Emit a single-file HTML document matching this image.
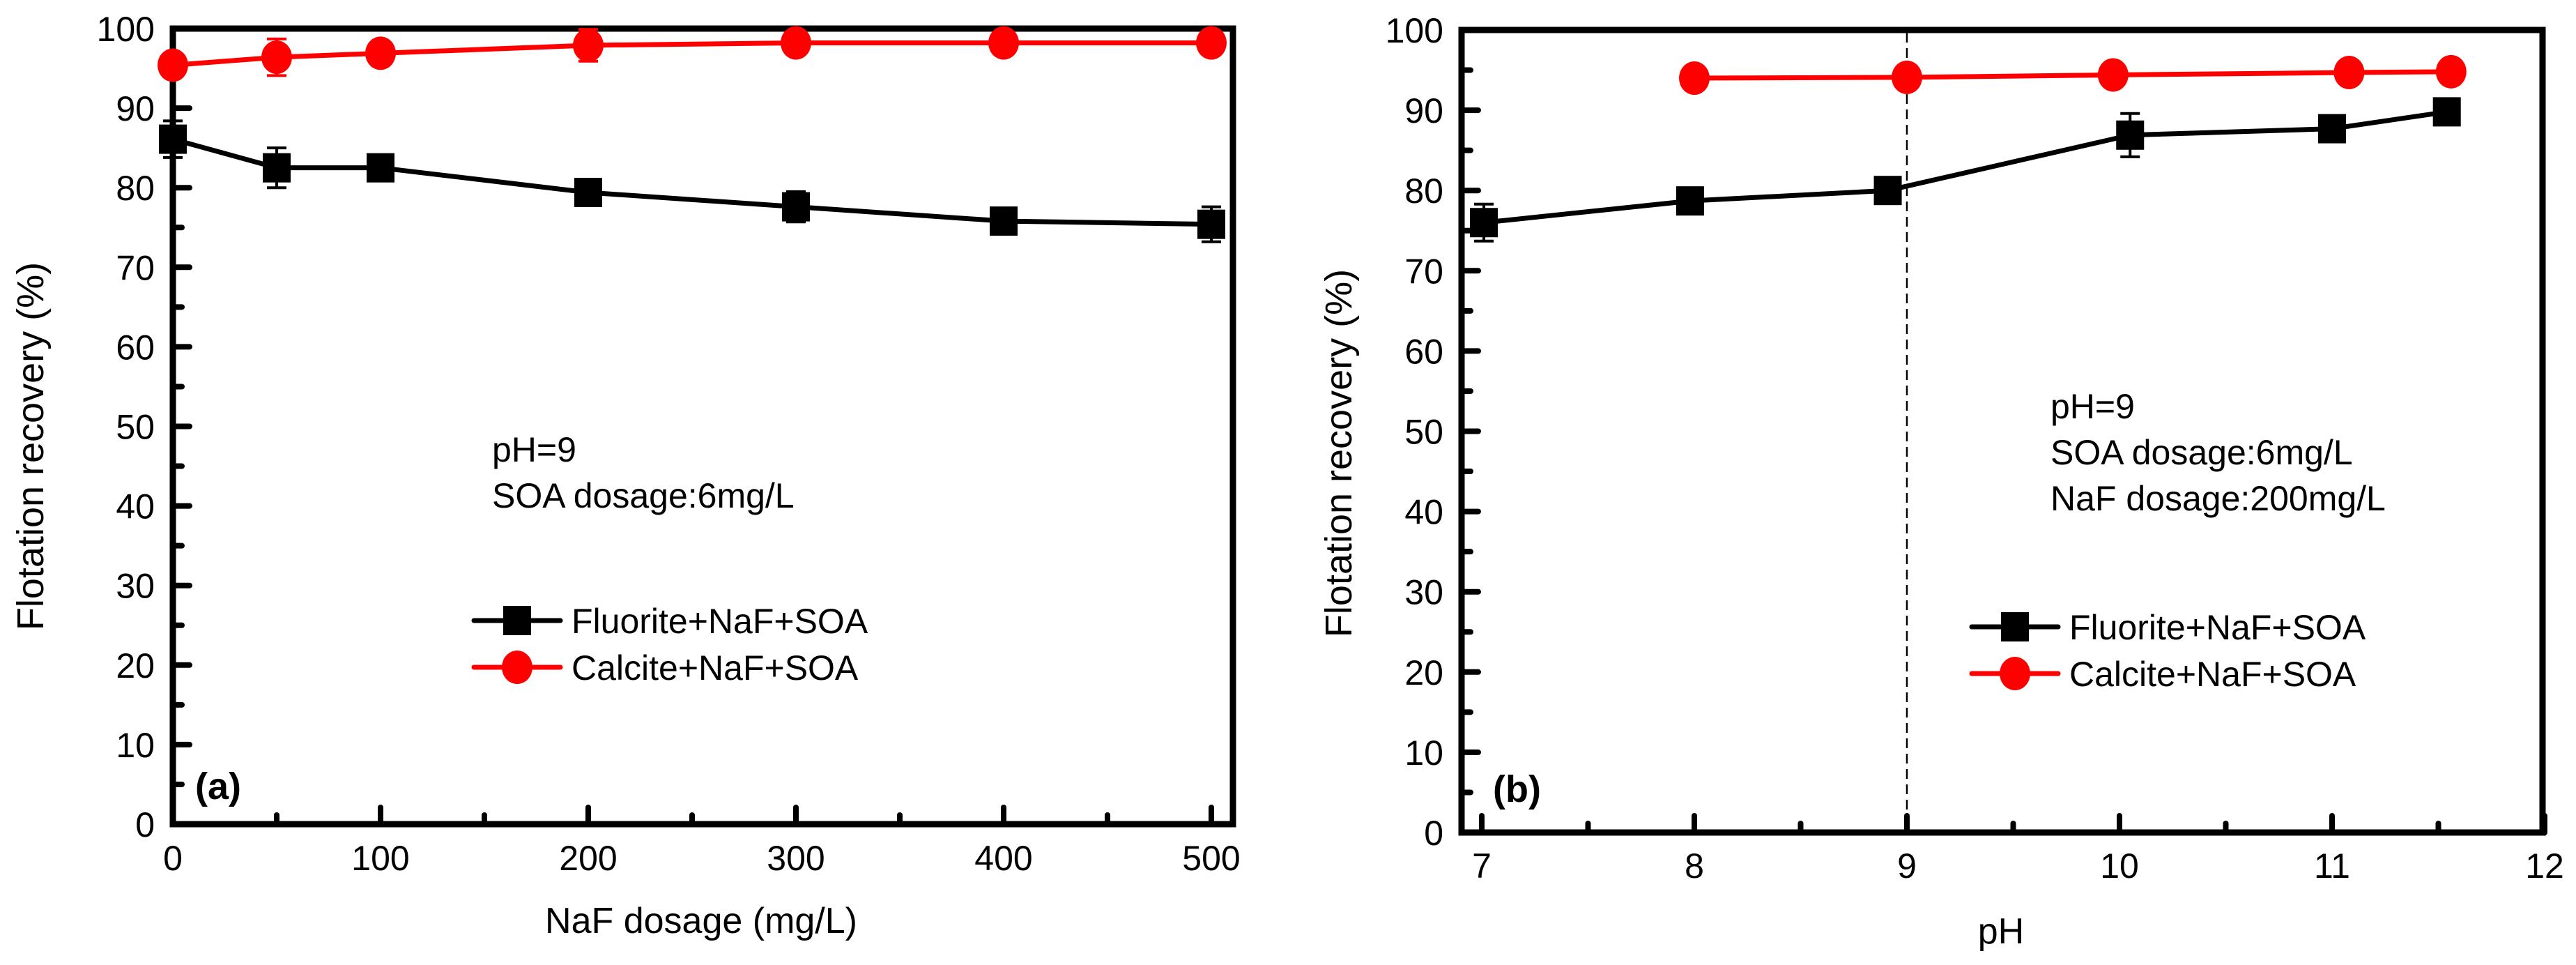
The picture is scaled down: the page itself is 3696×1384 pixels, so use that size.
<!DOCTYPE html>
<html><head><meta charset="utf-8"><style>
html,body{margin:0;padding:0;background:#fff;}
svg{display:block;font-family:"Liberation Sans",Arial,sans-serif;}
</style></head><body>
<svg id="chart" width="3696" height="1384" viewBox="0 0 3696 1384" xmlns="http://www.w3.org/2000/svg">
<g id="pa"></g>
<g id="pb"></g>
</svg>
<script>
// Panel (a) data
const aX = [0, 50, 100, 200, 300, 400, 500];
const aFluorite = [86.1, 82.5, 82.5, 79.4, 77.6, 75.8, 75.4];
const aFluoriteErr = [2.3, 2.5, 1.0, 0.8, 1.9, 1.2, 2.2];
const aCalcite = [95.4, 96.4, 96.9, 97.9, 98.2, 98.2, 98.2];
const aCalciteErr = [1.0, 2.3, 1.0, 2.0, 1.0, 1.0, 1.0];
const aXTicks = [0, 100, 200, 300, 400, 500];
// Panel (b) data
const bFluoriteX = [7.01, 7.98, 8.91, 10.05, 11.0, 11.54];
const bFluorite = [76.0, 78.7, 80.0, 86.9, 87.7, 89.8];
const bFluoriteErr = [2.3, 1.0, 0.8, 2.7, 0.8, 0.8];
const bCalciteX = [8.0, 9.0, 9.97, 11.08, 11.56];
const bCalcite = [94.0, 94.1, 94.4, 94.7, 94.8];
const bXTicks = [7, 8, 9, 10, 11, 12];
const yTicks = [0, 10, 20, 30, 40, 50, 60, 70, 80, 90, 100];

const NS = "http://www.w3.org/2000/svg";
function mk(parent, tag, attrs, text){
  const e = document.createElementNS(NS, tag);
  for (const k in attrs) e.setAttribute(k, attrs[k]);
  if (text !== undefined) e.textContent = text;
  parent.appendChild(e);
  return e;
}

function panel(g, cfg){
  const L=cfg.left, R=cfg.right, T=cfg.top, B=cfg.bottom;
  const xs = v => cfg.x0px + (v - cfg.x0) * cfg.xpx;
  const ys = v => B - v * (B - T) / 100;
  const fr = mk(g,'rect',{x:L,y:T,width:R-L,height:B-T,fill:'none',stroke:'#000','stroke-width':9});
  
  
  for (let i=0;i<yTicks.length;i++){
    const v=yTicks[i], y=ys(v);
    const t=mk(g,'line',{x1:L,x2:L+24,y1:y,y2:y,stroke:'#000','stroke-width':8,'stroke-linecap':'round'});
    
    
    if (v<100){
      const m=mk(g,'line',{x1:L,x2:L+13,y1:ys(v+5),y2:ys(v+5),stroke:'#000','stroke-width':8,'stroke-linecap':'round'});
      
      
    }
    const lb=mk(g,'text',{x:L-26,y:y+18,'font-size':50,'text-anchor':'end'},String(v));
    
    
  }
  for (let i=0;i<cfg.xTicks.length;i++){
    const v=cfg.xTicks[i], x=xs(v);
    const t=mk(g,'line',{x1:x,x2:x,y1:B,y2:B-24,stroke:'#000','stroke-width':8,'stroke-linecap':'round'});
    
    
    if (i<cfg.xTicks.length-1){
      const mv=(v+cfg.xTicks[i+1])/2;
      const m=mk(g,'line',{x1:xs(mv),x2:xs(mv),y1:B,y2:B-13,stroke:'#000','stroke-width':8,'stroke-linecap':'round'});
      
      
    }
    const lb=mk(g,'text',{x:x,y:cfg.tickBase,'font-size':50,'text-anchor':'middle'},String(v));
    
    
  }
  const xt=mk(g,'text',{x:cfg.xTitleX,y:cfg.xTitleY,'font-size':52,'text-anchor':'middle'},cfg.xTitle);
  
  
  const yt=mk(g,'text',{x:0,y:0,'font-size':54,'text-anchor':'middle',transform:`translate(${cfg.yTitleX},${cfg.yTitleY}) rotate(-90)`},'Flotation recovery (%)');
  
  
  const pl=mk(g,'text',{x:cfg.tagX,y:cfg.tagY,'font-size':54,'font-weight':'bold'},cfg.tag);
  
  
  if (cfg.dashX!==undefined){
    const d=mk(g,'line',{x1:xs(cfg.dashX),x2:xs(cfg.dashX),y1:T+4,y2:B-4,stroke:'#000','stroke-width':2.5,'stroke-dasharray':'14,8'});
    
    
  }
  for (let i=0;i<cfg.notes.length;i++){
    const n=mk(g,'text',{x:cfg.noteX,y:cfg.noteY+i*66,'font-size':50},cfg.notes[i]);
    
    
  }
  function series(xv, yv, ev, color, shape, name){
    const sg=mk(g,'g',{});
    
    
    const pts=xv.map((v,i)=>xs(v)+','+ys(yv[i])).join(' ');
    mk(sg,'polyline',{points:pts,fill:'none',stroke:color,'stroke-width':7,'stroke-linejoin':'round'});
    for (let i=0;i<xv.length;i++){
      const x=xs(xv[i]), y=ys(yv[i]);
      if (ev){
        const e=ev[i]*(B-T)/100;
        const eb=mk(sg,'path',{d:`M${x},${y-e}V${y+e}M${x-14},${y-e}H${x+14}M${x-14},${y+e}H${x+14}`,stroke:color,'stroke-width':4,fill:'none'});
        
        
      }
      let mkr;
      if (shape==='sq') mkr=mk(sg,'rect',{x:x-20,y:y-21,width:40,height:42,fill:color});
      else mkr=mk(sg,'ellipse',{cx:x,cy:y,rx:22,ry:24,fill:color});
      
      
    }
  }
  series(cfg.fx,cfg.fy,cfg.fe,'#000','sq','fluorite-series');
  series(cfg.cx,cfg.cy,cfg.ce,'#ff0000','ci','calcite-series');
  const lg=mk(g,'g',{});
  
  
  const items=[['#000','sq','Fluorite+NaF+SOA'],['#ff0000','ci','Calcite+NaF+SOA']];
  for (let i=0;i<2;i++){
    const y=cfg.legY+i*67, c=items[i][0];
    const en=mk(lg,'g',{});
    
    
    mk(en,'line',{x1:cfg.legX,x2:cfg.legX+124,y1:y,y2:y,stroke:c,'stroke-width':7,'stroke-linecap':'round'});
    const mx=cfg.legX+62;
    if (items[i][1]==='sq') mk(en,'rect',{x:mx-20,y:y-21,width:40,height:42,fill:c});
    else mk(en,'ellipse',{cx:mx,cy:y,rx:22,ry:24,fill:c});
    mk(en,'text',{x:cfg.legX+140,y:y+18,'font-size':50},items[i][2]);
  }
}

panel(document.getElementById('pa'),{
  left:248,right:1769,top:41,bottom:1182,x0:0,x0px:248,xpx:(1738-248)/500,
  xTicks:aXTicks,tickBase:1248,xTitle:'NaF dosage (mg/L)',xTitleX:1006,xTitleY:1338,
  yTitleX:62,yTitleY:640,tag:'(a)',tagX:280,tagY:1146,
  notes:['pH=9','SOA dosage:6mg/L'],noteX:706,noteY:662,
  fx:aX,fy:aFluorite,fe:aFluoriteErr,cx:aX,cy:aCalcite,ce:aCalciteErr,
  legX:680,legY:890
});
panel(document.getElementById('pb'),{
  left:2097,right:3648,top:43,bottom:1194,x0:7,x0px:2126,xpx:305,
  xTicks:bXTicks,tickBase:1259,xTitle:'pH',xTitleX:2871,xTitleY:1353,
  yTitleX:1939,yTitleY:650,tag:'(b)',tagX:2142,tagY:1150,dashX:9,
  notes:['pH=9','SOA dosage:6mg/L','NaF dosage:200mg/L'],noteX:2942,noteY:600,
  fx:bFluoriteX,fy:bFluorite,fe:bFluoriteErr,cx:bCalciteX,cy:bCalcite,ce:null,
  legX:2829,legY:899
});
</script>
</body></html>
